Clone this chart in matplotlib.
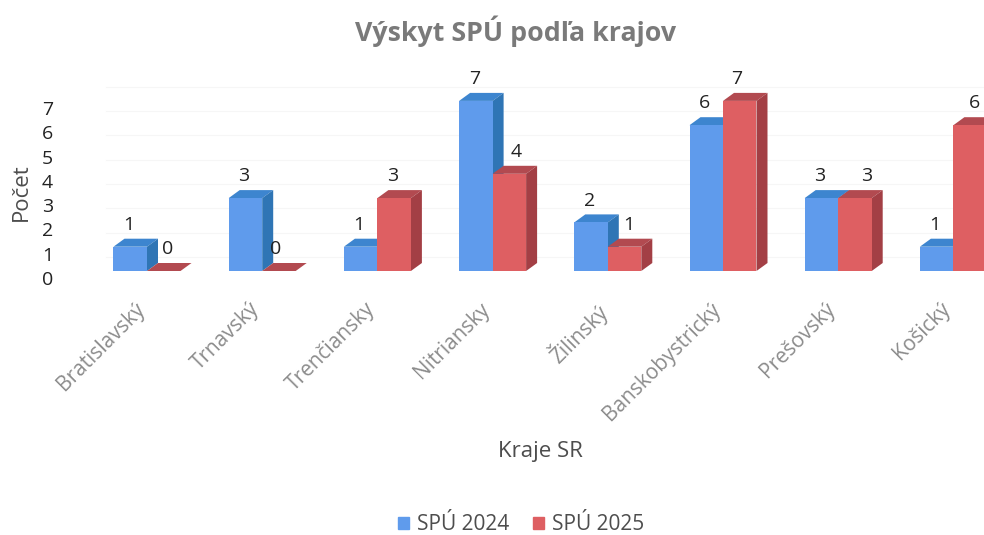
import matplotlib
matplotlib.use("Agg")
import matplotlib.pyplot as plt
from matplotlib.patches import Patch
from matplotlib.transforms import ScaledTranslation

plt.rcParams["font.family"] = ["Open Sans", "DejaVu Sans"]

# Data
kraje = ["Bratislavský", "Trnavský", "Trenčiansky", "Nitriansky", "Žilinský",
         "Banskobystrický", "Prešovský", "Košický"]
spu_2024 = [1, 3, 1, 7, 2, 6, 3, 1]
spu_2025 = [0, 0, 3, 4, 1, 7, 3, 6]
y_ticks = [0, 1, 2, 3, 4, 5, 6, 7]

# sideways shift of the 2025 labels in px, they sit off centre in the original
label_shift = [4, -3, -2, 7, 4, -3, 12, 4]

W, H = 984, 535
fig = plt.figure(figsize=(W / 100, H / 100), dpi=100)
fig.patch.set_facecolor("white")

# axes placed so one category = 115 px and one unit = 24.3 px
left, right, top, bottom = 60, 984, 80, 300
ax = fig.add_axes([left / W, 1 - bottom / H, (right - left) / W, (bottom - top) / H])
px_x = 115.2
px_y = 24.3
ax.set_xlim((left - 147) / px_x, (right - 147) / px_x)
ax.set_ylim(-(bottom - 271) / px_y, (271 - top) / px_y)
for s in ax.spines.values():
    s.set_visible(False)

bar_w = 33.5 / px_x
dx = 11 / px_x
dy = 8 / px_y


def bar3d(x0, v, front, side, topc, z):
    # front, right side and top faces of one pseudo 3D column
    ax.fill([x0, x0 + bar_w, x0 + bar_w, x0], [0, 0, v, v], color=front, lw=0, zorder=z + 0.2)
    ax.fill([x0 + bar_w, x0 + bar_w + dx, x0 + bar_w + dx, x0 + bar_w],
            [0, dy, v + dy, v], color=side, lw=0, zorder=z + 0.1)
    ax.fill([x0, x0 + dx, x0 + bar_w + dx, x0 + bar_w],
            [v, v + dy, v + dy, v], color=topc, lw=0, zorder=z)


# faint back wall grid
for t in y_ticks:
    ax.axhline(t + 0.58, xmin=0.05, color="#f6f6f6", lw=0.8, zorder=1)

for i, (a, b) in enumerate(zip(spu_2024, spu_2025)):
    bar3d(i - bar_w, a, "#5f9bec", "#2f75b5", "#3d85cf", 2)
    bar3d(i, b, "#de5f62", "#a33f45", "#b24a50", 3)
    ax.text(i - bar_w * 0.5 - 1.5 / px_x, a + dy + 0.2, str(a), ha="center", va="bottom",
            fontsize=14, color="#222222", zorder=5)
    ax.text(i + bar_w * 0.5 + label_shift[i] / px_x, b + dy + 0.2, str(b), ha="center",
            va="bottom", fontsize=14, color="#222222", zorder=5)

ax.set_xticks(range(len(kraje)))
ax.set_xticklabels(kraje, rotation=45, ha="right", rotation_mode="anchor",
                   fontsize=15, color="#8c8c8c")
ax.tick_params(axis="x", length=0, pad=4)
shift = ScaledTranslation(-13 / 100, 7 / 100, fig.dpi_scale_trans)
for lab in ax.get_xticklabels():
    lab.set_transform(lab.get_transform() + shift)
ax.set_yticks([t - 0.29 for t in y_ticks])
ax.set_yticklabels(y_ticks, fontsize=14, color="#222222")
ax.tick_params(axis="y", length=0, pad=5)
ax.patch.set_alpha(0)

fig.text(516 / W, 1 - 31 / H, "Výskyt SPÚ podľa krajov", ha="center", va="center",
         fontsize=19.3, fontweight="bold", color="#7a7a7a")
fig.text(21 / W, 1 - 192 / H, "Počet", rotation=90, ha="center", va="center",
         fontsize=16, color="#4d4d4d")
fig.text(540 / W, 1 - 451 / H, "Kraje SR", ha="center", va="center",
         fontsize=16, color="#4d4d4d")

handles = [Patch(color="#5f9bec", label="SPÚ 2024"), Patch(color="#de5f62", label="SPÚ 2025")]
fig.legend(handles=handles, loc="center", bbox_to_anchor=(521 / W, 1 - 525 / H), ncol=2,
           frameon=False, fontsize=15, labelcolor="#4d4d4d", handlelength=0.55,
           handleheight=0.55, handletextpad=0.35, columnspacing=1.15)

plt.savefig("out.png", dpi=100)
plt.close()
